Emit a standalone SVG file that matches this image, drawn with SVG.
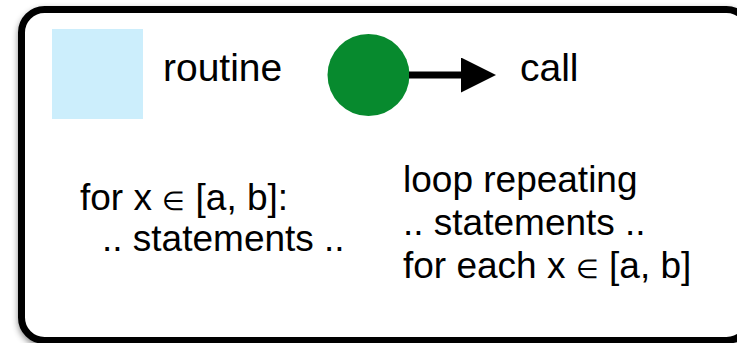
<svg xmlns="http://www.w3.org/2000/svg" width="737" height="343" viewBox="0 0 737 343">
<defs>
<filter id="sh" x="-5%" y="-5%" width="110%" height="115%">
<feDropShadow dx="0" dy="3" stdDeviation="3" flood-color="#000" flood-opacity="0.45"/>
</filter>
<marker id="ah" viewBox="0 0 10 10" refX="0" refY="5" markerWidth="5" markerHeight="5" markerUnits="strokeWidth" orient="auto">
<path d="M0,0 L10,5 L0,10 z" fill="#000"/>
</marker>
<style>
.t{font-family:"Liberation Sans",Arial,Helvetica,sans-serif;fill:#000;}
.big{font-size:39px;}
.mid{font-size:37px;}
.el{font-size:26px;}
</style>
</defs>
<rect width="737" height="343" fill="#fff"/>
<g id="frame">
<rect x="21.5" y="9.5" width="728" height="331" rx="23" ry="23" fill="#fff" stroke="#000" stroke-width="7" filter="url(#sh)"/>
</g>
<g id="legend-routine">
<rect x="52" y="29" width="91" height="90" fill="#cceefc"/>
<text class="t big" x="163" y="81">routine</text>
</g>
<g id="legend-call">
<circle cx="368.5" cy="75" r="41" fill="#078a2e"/>
<text class="t big" x="520" y="81">call</text>
</g>
<g id="connectors">
<line x1="409" y1="75" x2="461" y2="75" stroke="#000" stroke-width="7" marker-end="url(#ah)"/>
</g>
<g id="for-loop">
<text class="t mid" x="80" y="210">for x <tspan class="el">∈</tspan> [a, b]:</text>
<text class="t mid" x="102" y="251">.. statements ..</text>
</g>
<g id="loop-repeating">
<text class="t mid" x="403" y="192">loop repeating</text>
<text class="t mid" x="403" y="235">.. statements ..</text>
<text class="t mid" x="403" y="278">for each x <tspan class="el">∈</tspan> [a, b]</text>
</g>
</svg>
